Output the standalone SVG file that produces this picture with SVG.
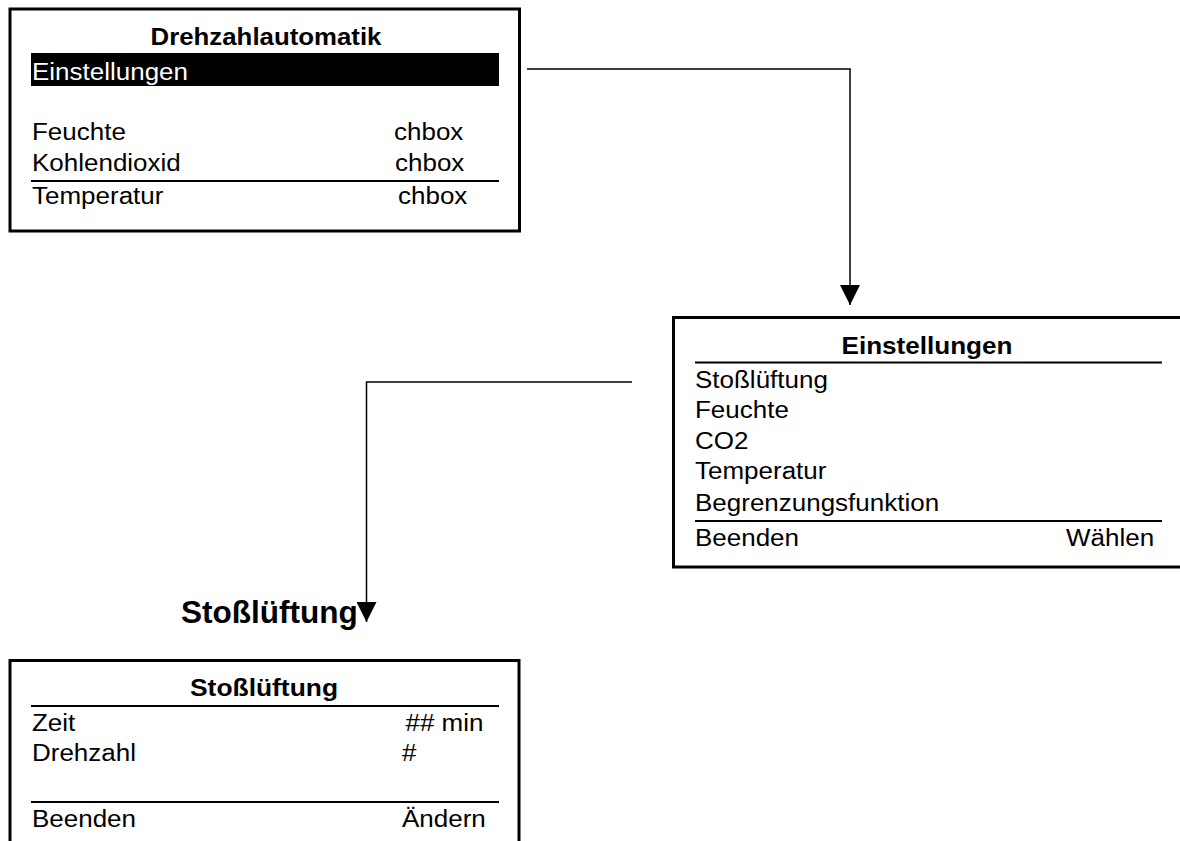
<svg xmlns="http://www.w3.org/2000/svg" width="1180" height="841" viewBox="0 0 1180 841">
<style>
.box{fill:#fff;stroke:#000;stroke-width:3}
.hl{fill:#000}
.sep{stroke:#000;stroke-width:2}
.t{font-family:"Liberation Sans",Arial,sans-serif;font-size:23px;fill:#000}
.w{fill:#fff}
.b{font-weight:bold}
.b24{font-weight:bold;font-size:24px}
.lbl{font-family:"Liberation Sans",Arial,sans-serif;font-weight:bold;font-size:30.5px;fill:#000}
.conn{fill:none;stroke:#000;stroke-width:1.5}
</style>
<defs>
<marker id="arr" markerUnits="userSpaceOnUse" markerWidth="20" markerHeight="20" viewBox="0 0 20 20" refX="20" refY="10" orient="auto">
<path d="M0,0 L20,10 L0,20 Z" fill="#000"/>
</marker>
</defs>
<rect width="1180" height="841" fill="#fff"/>
<g id="connectors">
<path class="conn" d="M527,69 H850 V305" marker-end="url(#arr)"/>
<path class="conn" d="M632,382 H366.5 V622" marker-end="url(#arr)"/>
</g>
<g id="node-drehzahlautomatik">
<rect class="box" x="10" y="9" width="509.5" height="222"/>
<text class="t b" transform="translate(266,44.5) scale(1.122,1)" text-anchor="middle">Drehzahlautomatik</text>
<rect class="hl" x="31" y="53" width="468" height="33"/>
<text class="t w" transform="translate(32,80) scale(1.13,1)">Einstellungen</text>
<text class="t" transform="translate(32,140) scale(1.13,1)">Feuchte</text>
<text class="t" transform="translate(394,140) scale(1.13,1)">chbox</text>
<text class="t" transform="translate(32,170.5) scale(1.13,1)">Kohlendioxid</text>
<text class="t" transform="translate(395,170.5) scale(1.13,1)">chbox</text>
<line class="sep" x1="31" y1="181" x2="499" y2="181"/>
<text class="t" transform="translate(32,204) scale(1.13,1)">Temperatur</text>
<text class="t" transform="translate(398,204) scale(1.13,1)">chbox</text>
</g>
<g id="node-einstellungen">
<rect class="box" x="673.5" y="317.5" width="520" height="249.5"/>
<text class="t b24" transform="translate(927,354) scale(1.087,1)" text-anchor="middle">Einstellungen</text>
<line class="sep" x1="695" y1="362.5" x2="1162" y2="362.5"/>
<text class="t" transform="translate(695,388) scale(1.13,1)">Stoßlüftung</text>
<text class="t" transform="translate(695,418) scale(1.13,1)">Feuchte</text>
<text class="t" transform="translate(695,449) scale(1.13,1)">CO2</text>
<text class="t" transform="translate(695,479) scale(1.13,1)">Temperatur</text>
<text class="t" transform="translate(695,511) scale(1.13,1)">Begrenzungsfunktion</text>
<line class="sep" x1="695" y1="521" x2="1162" y2="521"/>
<text class="t" transform="translate(695,546) scale(1.13,1)">Beenden</text>
<text class="t" transform="translate(1066,546) scale(1.13,1)">Wählen</text>
</g>
<g id="label-stossluftung">
<text class="lbl" transform="translate(181,622.7) scale(1.034,1)">Stoßlüftung</text>
</g>
<g id="node-stossluftung">
<rect class="box" x="10" y="660.5" width="509" height="200"/>
<text class="t b24" transform="translate(264,696) scale(1.1,1)" text-anchor="middle">Stoßlüftung</text>
<line class="sep" x1="31" y1="706" x2="499" y2="706"/>
<text class="t" transform="translate(32,730.5) scale(1.13,1)">Zeit</text>
<text class="t" transform="translate(405.5,730.5) scale(1.13,1)">## min</text>
<text class="t" transform="translate(32,761) scale(1.13,1)">Drehzahl</text>
<text class="t" transform="translate(402,761) scale(1.13,1)">#</text>
<line class="sep" x1="31" y1="802" x2="499" y2="802"/>
<text class="t" transform="translate(32,827) scale(1.13,1)">Beenden</text>
<text class="t" transform="translate(402,827) scale(1.13,1)">Ändern</text>
</g>
</svg>
